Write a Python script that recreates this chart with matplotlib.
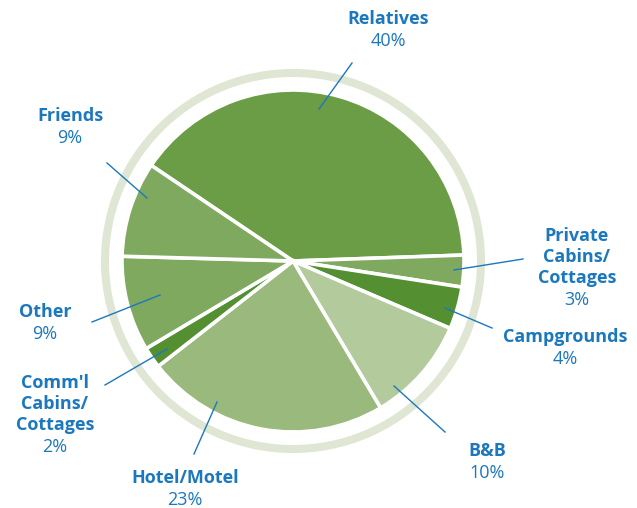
import matplotlib.pyplot as plt
from matplotlib.patches import Wedge

# data (clockwise from upper left)
categories = ['Relatives', 'Private\nCabins/\nCottages', 'Campgrounds', 'B&B',
              'Hotel/Motel', "Comm'l\nCabins/\nCottages", 'Other', 'Friends']
shares = [40, 3, 4, 10, 23, 2, 9, 9]
colors = ['#6a9d45', '#7ea95e', '#548f32', '#b3ca9c',
          '#9ab97c', '#548f32', '#7ea95e', '#7ea95e']

# label layout in pixel coords: text centre x, y of first line, leader line
label_pos = [(388, 19), (577, 236), (565, 337), (487, 451),
             (185, 478), (55, 383), (45, 312), (70, 116)]
leaders = [((319, 109), (352, 63)), ((454, 270), (523, 259)),
           ((445, 308), (492, 328)), ((394, 386), (445, 432)),
           ((217, 402), (194, 454)), ((167, 349), (105, 385)),
           ((160, 295), (92, 322)), ((147, 198), (107, 163))]

blue = '#1c78bd'
ring = '#dfe6d4'
cx, cy = 293, 261

fig = plt.figure(figsize=(6.37, 5.08), dpi=100)
ax = fig.add_axes([0, 0, 1, 1])

# outer ring
ax.add_patch(Wedge((cx, cy), 192, 0, 360, width=8, facecolor=ring, edgecolor='none'))

# y axis is inverted, so counterclockwise in data = clockwise on screen
ax.pie(shares, colors=colors, startangle=-146, counterclock=True,
       center=(cx, cy), radius=171, frame=True,
       wedgeprops=dict(edgecolor='white', linewidth=2.6))
ax.set_xlim(0, 637)
ax.set_ylim(508, 0)
ax.set_aspect('equal')
ax.axis('off')

line_h = 21
for name, val, (tx, ty), (p0, p1) in zip(categories, shares, label_pos, leaders):
    lines = name.split('\n')
    for k, ln in enumerate(lines):
        ax.text(tx, ty + k * line_h, ln, ha='center', va='center', color=blue,
                fontsize=13, fontweight='bold', family='Open Sans')
    ax.text(tx, ty + len(lines) * line_h + 1, f'{val}%', ha='center', va='center',
            color=blue, fontsize=13, family='Open Sans')
    ax.plot([p0[0], p1[0]], [p0[1], p1[1]], color=blue, linewidth=1)

plt.savefig('out.png', dpi=100)
